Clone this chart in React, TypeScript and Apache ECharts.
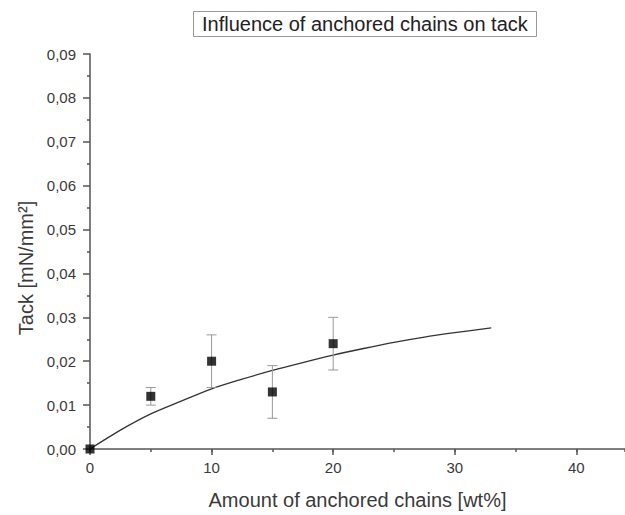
import React, { useEffect, useRef } from "react";
import * as echarts from "echarts";

const titleText = "Influence of anchored chains on tack";
const xAxisTitle = "Amount of anchored chains [wt%]";
const yAxisTitle = "Tack [mN/mm²]";

const amounts = [0, 5, 10, 15, 20];
const tackMeans = [0, 0.012, 0.02, 0.013, 0.024];
const tackErrors = [0, 0.002, 0.006, 0.006, 0.006];

const fitX = [0, 2.5, 5, 7.5, 10, 12.5, 15, 17.5, 20, 22.5, 25, 27.5, 30, 33];
const fitY = [0, 0.0043, 0.008, 0.0109, 0.0137, 0.0159, 0.0179, 0.0197, 0.0214, 0.0229, 0.0243, 0.0255, 0.0265, 0.0276];

const xMajorTicks = [0, 10, 20, 30, 40];

const FONT = '"Liberation Sans", Arial, Helvetica, sans-serif';

export default function App() {
  const ref = useRef<HTMLDivElement>(null);

  useEffect(() => {
    if (!ref.current) return;
    const chart = echarts.init(ref.current, undefined, { renderer: "svg" });

    const points = amounts.map((x, i) => [x, tackMeans[i]]);
    const errData = amounts
      .map((x, i) => [x, tackMeans[i] - tackErrors[i], tackMeans[i] + tackErrors[i]])
      .filter((d, i) => tackErrors[i] > 0);
    const fitData = fitX.map((x, i) => [x, fitY[i]]);

    const axisColor = "#555";
    const textColor = "#3a3a3a";

    chart.setOption({
      animation: false,
      backgroundColor: "#fff",
      title: {
        text: titleText,
        left: 193,
        top: 11,
        padding: [2, 9, 2, 9],
        borderColor: "#999",
        borderWidth: 1,
        textStyle: {
          fontSize: 20,
          fontWeight: "normal",
          color: "#222",
          fontFamily: FONT,
          lineHeight: 22,
        },
      },
      grid: { left: 90, right: 0, top: 54, bottom: 61.7, containLabel: false },
      xAxis: [
        {
          type: "value",
          min: 0,
          max: 44,
          interval: 5,
          position: "bottom",
          name: xAxisTitle,
          nameLocation: "middle",
          nameGap: 41,
          nameTextStyle: { fontSize: 20, color: textColor, fontFamily: FONT },
          axisLine: { show: true, lineStyle: { color: axisColor, width: 1.5 } },
          axisTick: {
            show: true,
            length: 3,
            lineStyle: { color: axisColor, width: 1.5 },
          },
          axisLabel: { show: false },
          splitLine: { show: false },
        },
        {
          type: "value",
          min: 0,
          max: 44,
          interval: 10,
          position: "bottom",
          axisLine: { show: false },
          axisTick: {
            show: true,
            length: 6,
            customValues: xMajorTicks,
            lineStyle: { color: axisColor, width: 1.5 },
          },
          axisLabel: {
            customValues: xMajorTicks,
            fontSize: 15,
            color: textColor,
            fontFamily: FONT,
            margin: 11,
          },
          splitLine: { show: false },
        },
      ],
      yAxis: {
        type: "value",
        min: 0,
        max: 0.09,
        interval: 0.01,
        axisLine: { show: true, lineStyle: { color: axisColor, width: 1.5 } },
        axisTick: { show: true, length: 7, lineStyle: { color: axisColor, width: 1.5 } },
        minorTick: { show: true, splitNumber: 2, length: 3, lineStyle: { color: axisColor, width: 1.5 } },
        axisLabel: {
          fontSize: 15,
          color: textColor,
          fontFamily: FONT,
          margin: 14,
          formatter: (v: number) => v.toFixed(2).replace(".", ","),
        },
        splitLine: { show: false },
        minorSplitLine: { show: false },
      },
      graphic: [
        {
          type: "text",
          x: 26,
          y: 268,
          rotation: Math.PI / 2,
          style: {
            text: yAxisTitle,
            font: `20px ${FONT}`,
            fill: textColor,
            align: "center",
            verticalAlign: "middle",
          },
        },
      ],
      series: [
        {
          type: "line",
          name: "fit",
          data: fitData,
          smooth: 0.3,
          symbol: "none",
          lineStyle: { color: "#333", width: 1.3 },
          z: 2,
        },
        {
          type: "custom",
          name: "error",
          data: errData,
          z: 3,
          renderItem: (params: any, api: any) => {
            const x = api.value(0);
            const lo = api.coord([x, api.value(1)]);
            const hi = api.coord([x, api.value(2)]);
            const cap = 5;
            const style = { stroke: "#999", lineWidth: 1 };
            return {
              type: "group",
              children: [
                { type: "line", shape: { x1: lo[0], y1: lo[1], x2: hi[0], y2: hi[1] }, style },
                { type: "line", shape: { x1: lo[0] - cap, y1: lo[1], x2: lo[0] + cap, y2: lo[1] }, style },
                { type: "line", shape: { x1: hi[0] - cap, y1: hi[1], x2: hi[0] + cap, y2: hi[1] }, style },
              ],
            };
          },
        },
        {
          type: "scatter",
          name: "data",
          data: points,
          symbol: "rect",
          symbolSize: 9,
          itemStyle: { color: "#000" },
          z: 4,
        },
      ],
    });

    return () => chart.dispose();
  }, []);

  return (
    <div
      ref={ref}
      style={{ position: "absolute", left: 0, top: 0, width: 625, height: 515 }}
    />
  );
}
